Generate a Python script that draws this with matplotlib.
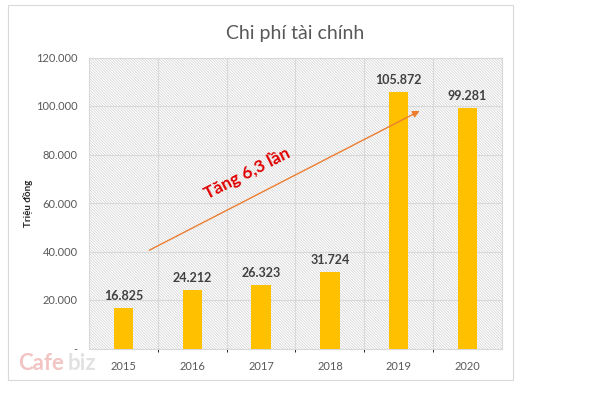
import matplotlib
matplotlib.use("Agg")
import matplotlib.pyplot as plt
from matplotlib.patches import Rectangle
from matplotlib.ticker import FuncFormatter

years = ["2015", "2016", "2017", "2018", "2019", "2020"]
values = [16825, 24212, 26323, 31724, 105872, 99281]
labels = ["16.825", "24.212", "26.323", "31.724", "105.872", "99.281"]
yticks = [0, 20000, 40000, 60000, 80000, 100000, 120000]

BAR = "#FFC000"
GRID = "#D9D9D9"
TXT = "#595959"

plt.rcParams["font.family"] = ["Lato", "DejaVu Sans"]
plt.rcParams["hatch.linewidth"] = 0.5

fig = plt.figure(figsize=(6.09, 3.94), dpi=100)

# chart frame
fig.patches.append(Rectangle((8 / 609, 14 / 394), 505 / 609, 375 / 394,
                             transform=fig.transFigure, fill=False,
                             edgecolor=GRID, linewidth=0.8))

ax = fig.add_axes([89 / 609, 45.5 / 394, 413 / 609, 291 / 394])
x = list(range(len(years)))

# hatched plot background
ax.add_patch(Rectangle((0, 0), 1, 1, transform=ax.transAxes, facecolor="white",
                       edgecolor="#D0D0D0", hatch="\\" * 12, linewidth=0, zorder=0))

ax.bar(x, values, width=0.28, color=BAR, zorder=3)
for xi, v, lab in zip(x, values, labels):
    ax.text(xi, v + 2500, lab, ha="center", va="bottom", fontsize=9,
            fontweight="bold", color="#404040", zorder=4)

ax.set_xlim(-0.5, len(years) - 0.5)
ax.set_ylim(0, 120000)
ax.set_yticks(yticks)
ax.yaxis.set_major_formatter(FuncFormatter(
    lambda v, p: "-" if v == 0 else f"{int(v):,}".replace(",", ".")))
ax.set_xticks(x)
ax.set_xticklabels(years)
ax.set_xticks([i + 0.5 for i in x[:-1]], minor=True)
ax.tick_params(axis="both", length=0, labelsize=8, colors=TXT, pad=8)
ax.tick_params(axis="x", pad=9)
ax.grid(axis="y", which="major", color=GRID, linewidth=0.8, zorder=1)
ax.grid(axis="x", which="minor", color=GRID, linewidth=0.8, zorder=1)
for s in ax.spines.values():
    s.set_color(GRID)
    s.set_linewidth(0.8)

ax.set_ylabel("Triệu đồng", fontsize=7, fontweight="bold", color="#262626")
ax.yaxis.set_label_coords(-0.136, 0.5)

ax.set_title("Chi phí tài chính", fontsize=14, color=TXT, pad=13)

# growth arrow
ax.annotate("", xy=(4.34, 98500), xytext=(0.34, 40000),
            arrowprops=dict(arrowstyle="-|>", color="#ED7D31", lw=1.0,
                            mutation_scale=10), zorder=5)
ax.text(1.8, 72500, "Tăng 6,3 lần", rotation=27, ha="center", va="center",
        fontsize=12.5, fontweight="bold", color="#E00000", zorder=5)

# watermark
fig.text(18 / 609, 1 - 364 / 394, "Cafe", fontsize=16, fontweight="bold",
         color="#F2C4C4", ha="left", va="center")
fig.text(68 / 609, 1 - 364 / 394, "biz", fontsize=16, fontweight="bold",
         color="#E2E2E2", ha="left", va="center")

fig.savefig("out.png", dpi=100)
